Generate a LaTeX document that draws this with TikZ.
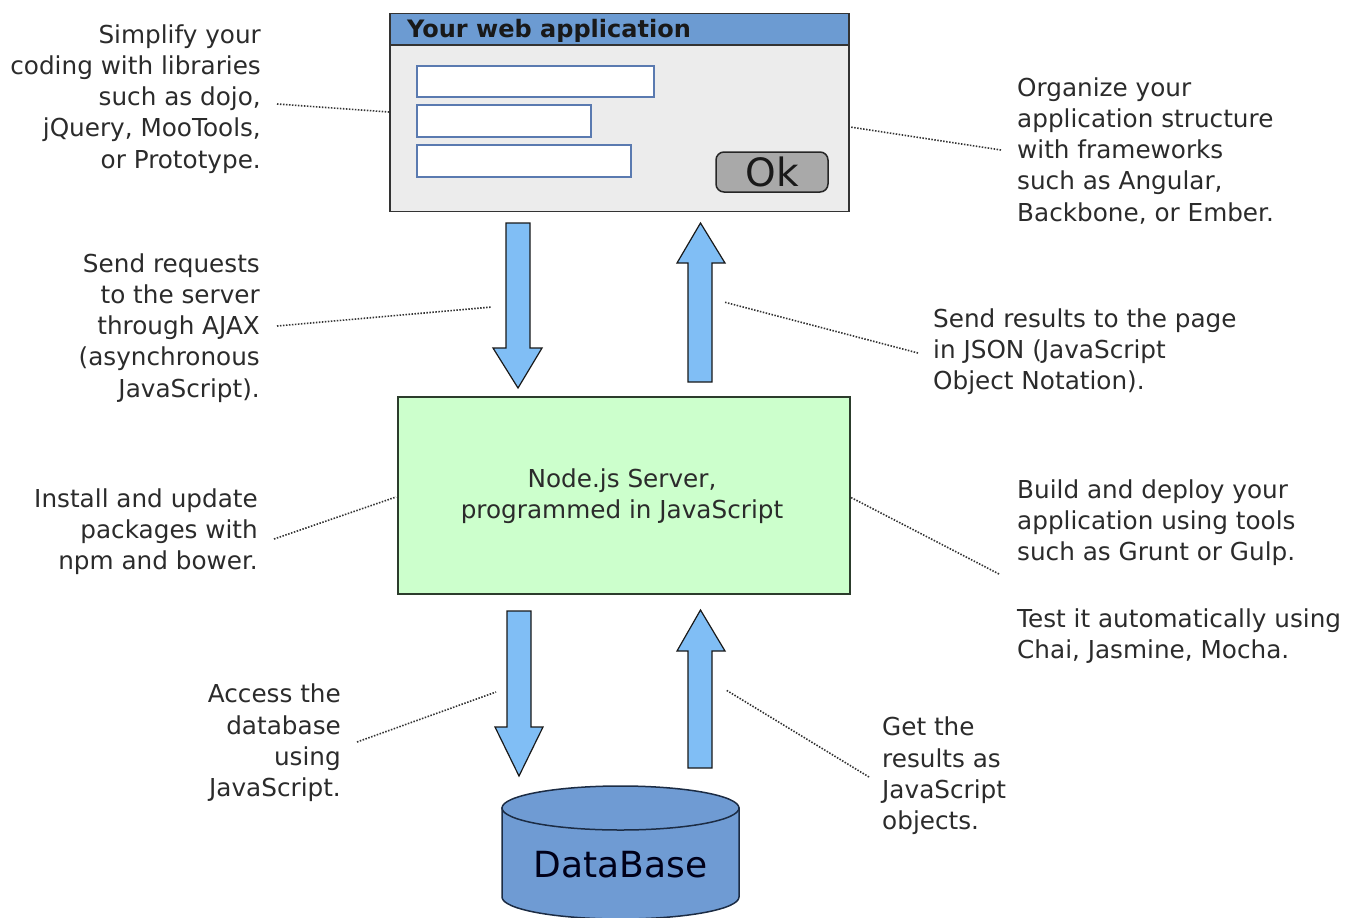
\documentclass[tikz,border=0pt]{standalone}
\usepackage{fontspec}
\setmainfont{DejaVu Sans}
\definecolor{txt}{HTML}{2B2B2B}
\definecolor{dotc}{HTML}{333333}
\definecolor{arrfill}{HTML}{80BEF5}
\definecolor{titlebar}{HTML}{6C9BD2}
\definecolor{appbody}{HTML}{ECECEC}
\definecolor{fieldline}{HTML}{5A7AB0}
\definecolor{okfill}{HTML}{A9A9A9}
\definecolor{srvfill}{HTML}{CCFFCC}
\definecolor{srvline}{HTML}{2C3C2C}
\definecolor{dbfill}{HTML}{6F9BD3}
\definecolor{dbline}{HTML}{1C2C44}
\begin{document}
\begin{tikzpicture}[x=1pt,y=-1pt,
  lbl/.style={font=\fontsize{24.7}{31.3}\selectfont, text=txt, inner sep=0pt,
    execute at begin node=\strut, execute at end node=\strut},
  lblR/.style={lbl, align=right, anchor=east},
  lblL/.style={lbl, align=left, anchor=west},
  leader/.style={draw=dotc, line width=1.6pt, dash pattern=on 1.5pt off 1.5pt},
  blockarrow/.style={draw=black!90, line width=1.2pt, fill=arrfill, line join=miter},
  field/.style={draw=fieldline, line width=1.5pt, fill=white},
]
\useasboundingbox (0,0) rectangle (1357,918);

% Web application window
\node[draw=black!80, line width=1.5pt, fill=appbody, minimum width=459pt, minimum height=198pt, inner sep=0pt] (app) at (619.5,112.5) {};
\fill[titlebar] (390,13.5) rectangle (849,45);
\draw[black!80, line width=1.5pt] (390,45) -- (849,45);
\draw[black!80, line width=1.5pt] (390,13.5) rectangle (849,211.5);
\node[font=\bfseries\fontsize{24}{28}\selectfont, text=black!90, anchor=west, inner sep=0pt] (title) at (407,30.5) {Your web application};
\draw[field] (417,66) rectangle (654,97);
\draw[field] (417,105) rectangle (591,137);
\draw[field] (417,145) rectangle (631,177);
\node[draw=black!85, line width=1.5pt, fill=okfill, rounded corners=8pt, minimum width=112pt, minimum height=40pt, inner sep=0pt, font=\fontsize{39}{40}\selectfont, text=black!90] (ok) at (772,172) {Ok};

% Server box
\node[draw=srvline, line width=2pt, fill=srvfill, minimum width=452pt, minimum height=197pt, inner sep=0pt] (srv) at (623.5,495.5) {};
\node[lbl, align=center] (srvlbl) at (622,498.5) {Node.js Server,\\programmed in JavaScript};

% Block arrows
\draw[blockarrow] (506,223) -- (530,223) -- (530,348) -- (542,348) -- (518,388) -- (493,348) -- (506,348) -- cycle;
\draw[blockarrow] (688,382) -- (712,382) -- (712,263) -- (725,263) -- (700.5,223) -- (677,263) -- (688,263) -- cycle;
\draw[blockarrow] (507,611) -- (531,611) -- (531,727) -- (543,727) -- (519,776) -- (495,727) -- (507,727) -- cycle;
\draw[blockarrow] (688,768) -- (712,768) -- (712,651) -- (725,651) -- (700.5,610) -- (677,651) -- (688,651) -- cycle;

% Database cylinder
\draw[draw=dbline, line width=1.5pt, fill=dbfill] (502,808) -- (502,897)
  arc[start angle=180, end angle=360, x radius=118.5pt, y radius=22pt] -- (739,808) -- cycle;
\draw[draw=dbline, line width=1.5pt, fill=dbfill] (620.5,808) ellipse[x radius=118.5pt, y radius=22pt];
\node[font=\fontsize{36}{40}\selectfont, text=black!90!blue, inner sep=0pt] (db) at (620.5,865) {DataBase};

% Labels
\node[lblR] (t1) at (261,101) {Simplify your\\coding with libraries\\such as dojo,\\jQuery, MooTools,\\or Prototype.};
\node[lblL] (t2) at (1017,154) {Organize your\\application structure\\with frameworks\\such as Angular,\\Backbone, or Ember.};
\node[lblR] (t3) at (260,330) {Send requests\\to the server\\through AJAX\\(asynchronous\\JavaScript).};
\node[lblL] (t4) at (933,354) {Send results to the page\\in JSON (JavaScript\\Object Notation).};
\node[lblR] (t5) at (258,534) {Install and update\\packages with\\npm and bower.};
\node[lblL] (t6) at (1017,525) {Build and deploy your\\application using tools\\such as Grunt or Gulp.};
\node[lblL] (t7) at (1017,638) {Test it automatically using\\Chai, Jasmine, Mocha.};
\node[lblR] (t8) at (341,745) {Access the\\database\\using\\JavaScript.};
\node[lblL] (t9) at (882,778) {Get the\\results as\\JavaScript\\objects.};

% Leader line endpoints
\coordinate (a1) at (277,104); \coordinate (b1) at (389,112);
\coordinate (a2) at (1001,150); \coordinate (b2) at (850,127);
\coordinate (a3) at (277,326); \coordinate (b3) at (492,307);
\coordinate (a4) at (918,353); \coordinate (b4) at (724,302);
\coordinate (a5) at (274,539); \coordinate (b5) at (396,497);
\coordinate (a6) at (999,574); \coordinate (b6) at (850,497);
\coordinate (a8) at (357,742); \coordinate (b8) at (496,692);
\coordinate (a9) at (869,777); \coordinate (b9) at (726,690);

\draw[leader] (a1) -- (b1);
\draw[leader] (a2) -- (b2);
\draw[leader] (a3) -- (b3);
\draw[leader] (a4) -- (b4);
\draw[leader] (a5) -- (b5);
\draw[leader] (a6) -- (b6);
\draw[leader] (a8) -- (b8);
\draw[leader] (a9) -- (b9);
\end{tikzpicture}
\end{document}
